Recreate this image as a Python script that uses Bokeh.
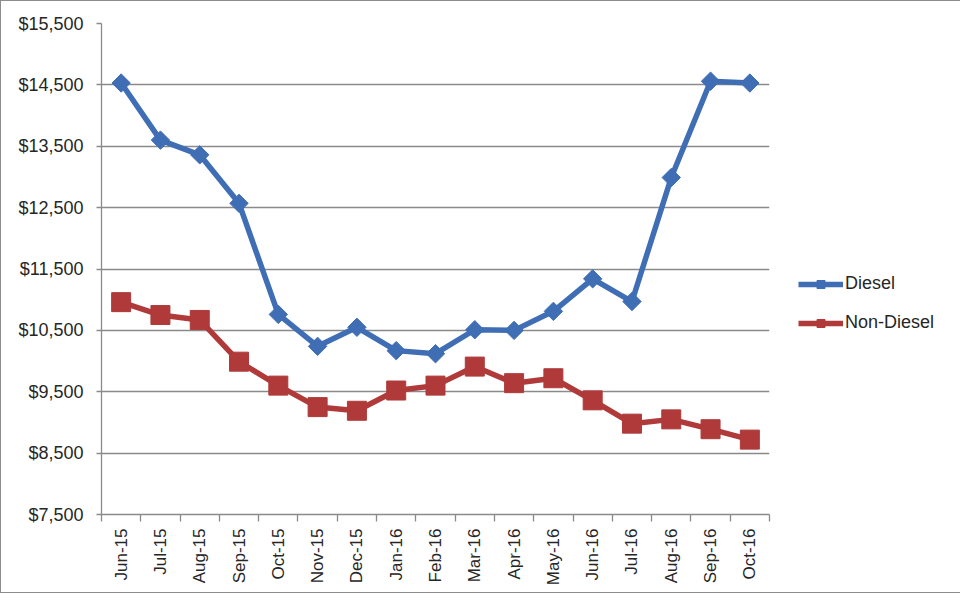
import math
from bokeh.plotting import figure
from bokeh.models import (FixedTicker, NumeralTickFormatter, Legend, LegendItem, Range1d)
from bokeh.embed import file_html
from bokeh.resources import INLINE

months = ["Jun-15", "Jul-15", "Aug-15", "Sep-15", "Oct-15", "Nov-15", "Dec-15", "Jan-16",
          "Feb-16", "Mar-16", "Apr-16", "May-16", "Jun-16", "Jul-16", "Aug-16", "Sep-16", "Oct-16"]
diesel = [14530, 13600, 13360, 12570, 10760, 10240, 10550, 10170, 10120, 10510, 10500,
          10810, 11340, 10970, 12990, 14560, 14530]
non_diesel = [10960, 10750, 10670, 9990, 9600, 9250, 9190, 9520, 9600, 9910, 9640,
              9720, 9360, 8980, 9050, 8890, 8720]
y_ticks = [7500, 8500, 9500, 10500, 11500, 12500, 13500, 14500, 15500]

BLUE = "#3F6EB5"
RED = "#B03A3A"
GRID = "#8A8A8A"
TEXT = "#262626"
FONT = "Liberation Sans"

xs = [i + 0.5 for i in range(len(months))]
boundaries = list(range(len(months) + 1))

p = figure(frame_width=668, frame_height=491, output_backend="svg", toolbar_location=None,
           x_range=Range1d(0, len(months)), y_range=Range1d(y_ticks[0], y_ticks[-1]),
           min_border_left=100, min_border_right=176, min_border_top=22, min_border_bottom=78)
p.outline_line_color = None
p.background_fill_color = "white"
p.border_fill_color = "white"
p.styles = {"border": "1px solid #8c8c8c"}

# grid
p.xgrid.grid_line_color = None
p.ygrid.grid_line_color = GRID
p.ygrid.grid_line_width = 1.3

# y axis
p.yaxis.ticker = FixedTicker(ticks=y_ticks)
p.yaxis.formatter = NumeralTickFormatter(format="$0,0")
p.yaxis.axis_line_color = GRID
p.yaxis.axis_line_width = 1.3
p.yaxis.major_tick_line_color = GRID
p.yaxis.major_tick_line_width = 1.3
p.yaxis.major_tick_out = 5
p.yaxis.major_tick_in = 0
p.yaxis.minor_tick_line_color = None
p.yaxis.major_label_standoff = 13
p.yaxis.major_label_text_font = FONT
p.yaxis.major_label_text_font_size = "18px"
p.yaxis.major_label_text_color = TEXT

# x axis: labels at centers, ticks at boundaries (minor)
p.xaxis.ticker = FixedTicker(ticks=xs, minor_ticks=boundaries)
p.xaxis.major_label_overrides = {x: m for x, m in zip(xs, months)}
p.xaxis.major_label_orientation = math.pi / 2
p.xaxis.major_tick_line_color = None
p.xaxis.minor_tick_line_color = GRID
p.xaxis.minor_tick_line_width = 1.3
p.xaxis.minor_tick_out = 7
p.xaxis.minor_tick_in = 0
p.xaxis.axis_line_color = GRID
p.xaxis.axis_line_width = 1.3
p.xaxis.major_label_standoff = 7
p.xaxis.major_label_text_font = FONT
p.xaxis.major_label_text_font_size = "17px"
p.xaxis.major_label_text_color = TEXT

# series
l1 = p.line(xs, diesel, line_color=BLUE, line_width=5.5)
s1 = p.scatter(xs, diesel, marker="square", angle=math.pi / 4, size=13,
               fill_color=BLUE, line_color=BLUE)
l2 = p.line(xs, non_diesel, line_color=RED, line_width=5.5)
s2 = p.scatter(xs, non_diesel, marker="square", size=19, fill_color=RED, line_color=RED)

legend = Legend(items=[LegendItem(label="Diesel", renderers=[l1, s1]),
                       LegendItem(label="Non-Diesel", renderers=[l2, s2])],
                location=(29, 181), padding=0, margin=0, spacing=18,
                glyph_width=45, glyph_height=20, label_standoff=2,
                border_line_color=None, background_fill_alpha=0,
                label_text_font=FONT, label_text_font_size="18px",
                label_text_color=TEXT)
p.add_layout(legend, "right")

open("out.html", "w").write(file_html(p, INLINE))
